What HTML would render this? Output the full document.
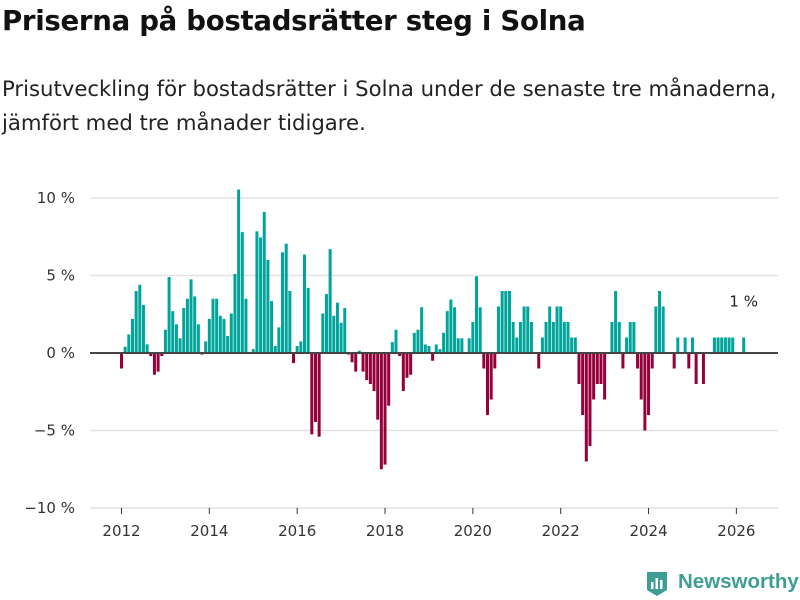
<!DOCTYPE html>
<html><head><meta charset="utf-8">
<style>
body{margin:0;background:#fff;width:800px;height:600px;overflow:hidden;font-family:"DejaVu Sans","Liberation Sans",sans-serif;}
h1{position:absolute;left:2px;top:4px;margin:0;font-size:27.6px;font-weight:bold;color:#111;letter-spacing:-0.3px}
p{position:absolute;left:2px;top:72px;margin:0;font-size:21.2px;line-height:34px;color:#222;white-space:nowrap}
svg{position:absolute;left:0;top:0}
</style></head><body>
<h1>Priserna på bostadsrätter steg i Solna</h1>
<p>Prisutveckling för bostadsrätter i Solna under de senaste tre månaderna,<br>jämfört med tre månader tidigare.</p>
<svg id="chart" width="800" height="600"></svg>
<div style="position:absolute;left:645px;top:570px;">
<svg width="24" height="28" style="position:absolute;left:0;top:0"><path d="M2 2h20v18l-10 6-10-6z" fill="#3f9e93"/><rect x="6" y="12" width="2.5" height="7" fill="#fff"/><rect x="10.5" y="8" width="2.5" height="11" fill="#fff"/><rect x="15" y="10" width="2.5" height="9" fill="#fff"/></svg>
<span style="position:absolute;left:33px;top:0px;font-family:'Liberation Sans',sans-serif;font-size:20.5px;font-weight:bold;color:#3f9e93;white-space:nowrap">Newsworthy</span></div>
<script>
const startYear = 2012;
const values = [
-1,0.4,1.2,2.2,4.0,4.4,3.1,0.56,-0.2,-1.4,-1.2,-0.2,
1.5,4.9,2.7,1.85,0.95,2.9,3.5,4.75,3.65,1.85,-0.1,0.75,
2.2,3.5,3.5,2.4,2.2,1.1,2.55,5.1,10.55,7.8,3.5,0,
0.25,7.85,7.45,9.1,6.0,3.35,0.45,1.65,6.5,7.05,4.0,-0.65,
0.45,0.75,6.35,4.2,-5.25,-4.45,-5.4,2.55,3.8,6.7,2.4,3.25,
1.95,2.9,-0.1,-0.6,-1.2,0.15,-1.2,-1.75,-2.0,-2.45,-4.3,-7.5,
-7.2,-3.4,0.7,1.5,-0.2,-2.45,-1.6,-1.4,1.3,1.5,2.95,0.55,
0.45,-0.5,0.55,0.25,1.3,2.7,3.45,2.95,0.95,0.95,0,0.95,
2,4.95,2.95,-1,-4,-3,-1,3,4,4,4,2,
1,2,3,3,2,0,-1,1,2,3,2,3,
3,2,2,1,1,-2,-4,-7,-6,-3,-2,-2,
-3,0,2,4,2,-1,1,2,2,-1,-3,-5,
-4,-1,3,4,3,0,0,-1,1,0,1,-1,
1,-2,0,-2,0,0,1,1,1,1,1,1,
0,0,1
];
const yTicks = [10,5,0,-5,-10];
const yTickLabels = ["10 %","5 %","0 %","−5 %","−10 %"];
const xTicks = [2012,2014,2016,2018,2020,2022,2024,2026];
const lastLabel = "1 %";

const svg = document.getElementById('chart');
const NS = 'http://www.w3.org/2000/svg';
const y = v => 353 - v * 15.5;
const xm = m => 120 + m * 3.66;
function mk(tag, attrs){const e=document.createElementNS(NS,tag);for(const k in attrs)e.setAttribute(k,attrs[k]);svg.appendChild(e);return e;}

yTicks.forEach((t,i)=>{
  if(t!==0){
    const g=mk('line',{x1:90,x2:778,y1:y(t),y2:y(t),stroke:'#e2e2e2','stroke-width':1.5});
    
    
  }
  const tx=mk('text',{x:75,y:y(t)+5,'text-anchor':'end','font-size':15,fill:'#333','font-family':'DejaVu Sans, Liberation Sans, sans-serif'});
  tx.textContent=yTickLabels[i];
  
  
});
values.forEach((v,m)=>{
  if(v===0)return;
  const r=mk('rect',{x:xm(m),width:3,y:Math.min(y(v),y(0)),height:Math.abs(y(v)-y(0)),fill:v>0?'#00a49a':'#95003a'});
  
  
});
const z=mk('line',{x1:90,x2:778,y1:y(0),y2:y(0),stroke:'#444','stroke-width':2});


xTicks.forEach(yr=>{
  const cx=xm((yr-startYear)*12)+1.5;
  const t=mk('line',{x1:cx,x2:cx,y1:508,y2:514,stroke:'#333','stroke-width':1});
  
  
  const tx=mk('text',{x:cx,y:536,'text-anchor':'middle','font-size':15,fill:'#333','font-family':'DejaVu Sans, Liberation Sans, sans-serif'});
  tx.textContent=yr;
  
  
});
const last=values.length-1;
const ll=mk('text',{x:xm(last)+1.5,y:y(values[last])-31,'text-anchor':'middle','font-size':15,fill:'#222','font-family':'DejaVu Sans, Liberation Sans, sans-serif'});
ll.textContent=lastLabel;


</script>
</body></html>
